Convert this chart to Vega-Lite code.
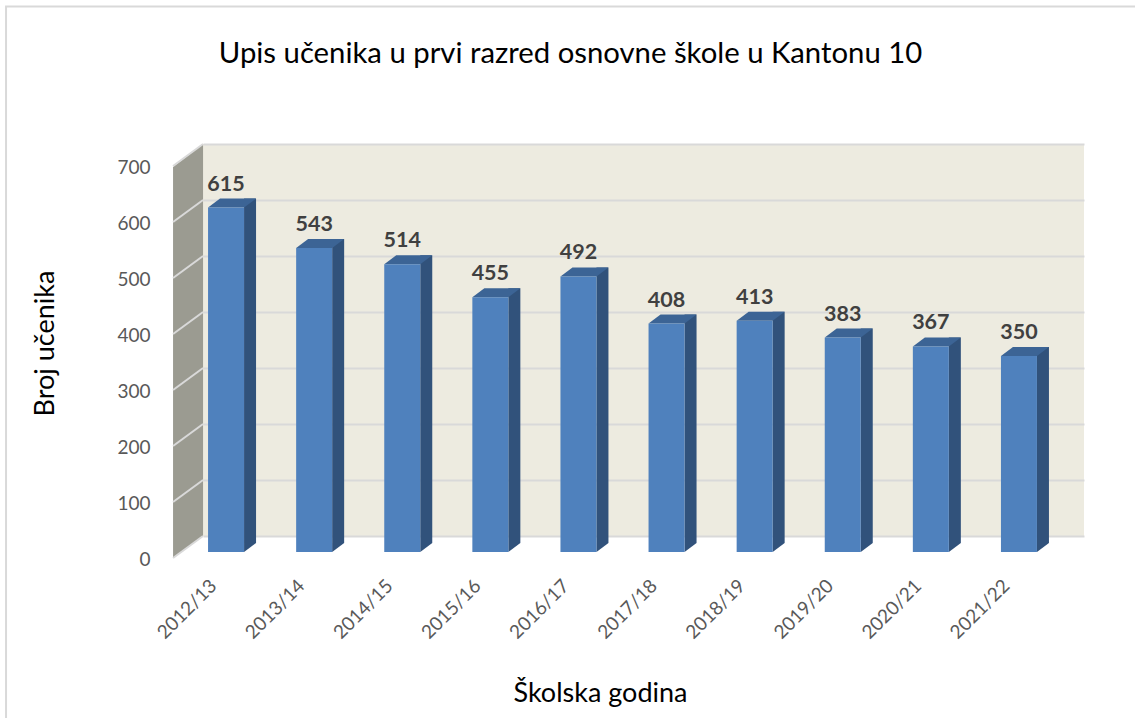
{
 "$schema":"https://vega.github.io/schema/vega-lite/v6.json",
 "width":881,"height":392,
 "autosize":{"type":"none"},
 "padding":{"left":203,"top":144,"right":51,"bottom":182},
 "background":"white",
 "view":{"fill":"#EDEBE0","stroke":null},
 "title":{"text":"Upis učenika u prvi razred osnovne škole u Kantonu 10","font":"Lato","fontSize":29.3,"fontWeight":"normal","color":"#000000","anchor":"middle","dx":-73,"offset":-67},
 "datasets":{
  "enrol":[
   {"godina":"2012/13","broj":615},{"godina":"2013/14","broj":543},{"godina":"2014/15","broj":514},{"godina":"2015/16","broj":455},{"godina":"2016/17","broj":492},
   {"godina":"2017/18","broj":408},{"godina":"2018/19","broj":413},{"godina":"2019/20","broj":383},{"godina":"2020/21","broj":367},{"godina":"2021/22","broj":350}],
  "ticks":[{"godina":"2012/13","broj":0},{"godina":"2012/13","broj":100},{"godina":"2012/13","broj":200},{"godina":"2012/13","broj":300},{"godina":"2012/13","broj":400},{"godina":"2012/13","broj":500},{"godina":"2012/13","broj":600},{"godina":"2012/13","broj":700}]
 },
 "encoding":{
  "x":{"field":"godina","type":"nominal","sort":null,"scale":{"paddingInner":0,"paddingOuter":0},
   "axis":{"title":"Školska godina","titleFont":"Lato","titleFontSize":27,"titleFontWeight":"normal","titleColor":"#000000","titleX":397,"titleY":165,"titleBaseline":"alphabetic",
    "labelFont":"Lato","labelFontSize":19,"labelColor":"#595959","labelAngle":-45,"labelAlign":"right","labelBaseline":"middle","labelOffset":-33.5,"labelPadding":46.5,"domain":false,"ticks":false}},
  "y":{"field":"broj","type":"quantitative","scale":{"domain":[0,700],"nice":false},
   "axis":{"title":"Broj učenika","titleFont":"Lato","titleFontSize":27,"titleFontWeight":"normal","titleColor":"#000000","titleAngle":-90,"titleX":-158,"titleY":199,"titleBaseline":"middle",
    "values":[0,100,200,300,400,500,600,700],"grid":true,"gridColor":"#D9D9D9","gridWidth":2,"domain":false,"ticks":false,
    "labelFont":"Lato","labelFontSize":19,"labelColor":"#595959","labelPadding":53,"labelOffset":23.5}}
 },
 "layer":[
  {"data":{"values":[{"godina":"2012/13","broj":0}]},
   "mark":{"type":"point","shape":"M-74,22 L-44,0 L-44,-392 L-74,-369 Z","size":4,"filled":true,"fill":"#9B9B91","stroke":null,"opacity":1}},
  {"data":{"name":"ticks"},
   "mark":{"type":"point","shape":"M-74,22 L-44,0","size":4,"filled":false,"stroke":"#D9D9D9","strokeWidth":2,"opacity":1}},
  {"data":{"values":[{"godina":"2012/13","broj":0}]},
   "mark":{"type":"point","shape":"M-241,182 L-241,-529.5 L888,-529.5","size":4,"filled":false,"stroke":"#D9D9D9","strokeWidth":2,"opacity":1,"clip":false}},
  {"data":{"name":"enrol"},
   "mark":{"type":"bar","width":12,"xOffset":3,"yOffset":7,"y2Offset":7,"fill":"#31527B"}},
  {"data":{"name":"enrol"},"encoding":{"y":{"datum":0,"type":"quantitative"}},
   "mark":{"type":"point","shape":"M-3,16 L-3,7 L9,7 Z","size":4,"filled":true,"fill":"#31527B","stroke":null,"opacity":1}},
  {"data":{"name":"enrol"},
   "mark":{"type":"point","shape":"M-39,16 L-27,7 L9,7 L-3,16 Z","size":4,"filled":true,"fill":"#3C6495","stroke":null,"opacity":1}},
  {"data":{"name":"enrol"},
   "mark":{"type":"bar","width":36,"xOffset":-21,"yOffset":16,"y2Offset":16,"fill":"#4F81BD"}},
  {"data":{"name":"enrol"},
   "mark":{"type":"text","xOffset":-21,"yOffset":-1,"font":"Lato","fontSize":21.5,"fontWeight":"bold","fill":"#404040","baseline":"alphabetic","align":"center"},
   "encoding":{"text":{"field":"broj","type":"quantitative"}}}
 ]
}
